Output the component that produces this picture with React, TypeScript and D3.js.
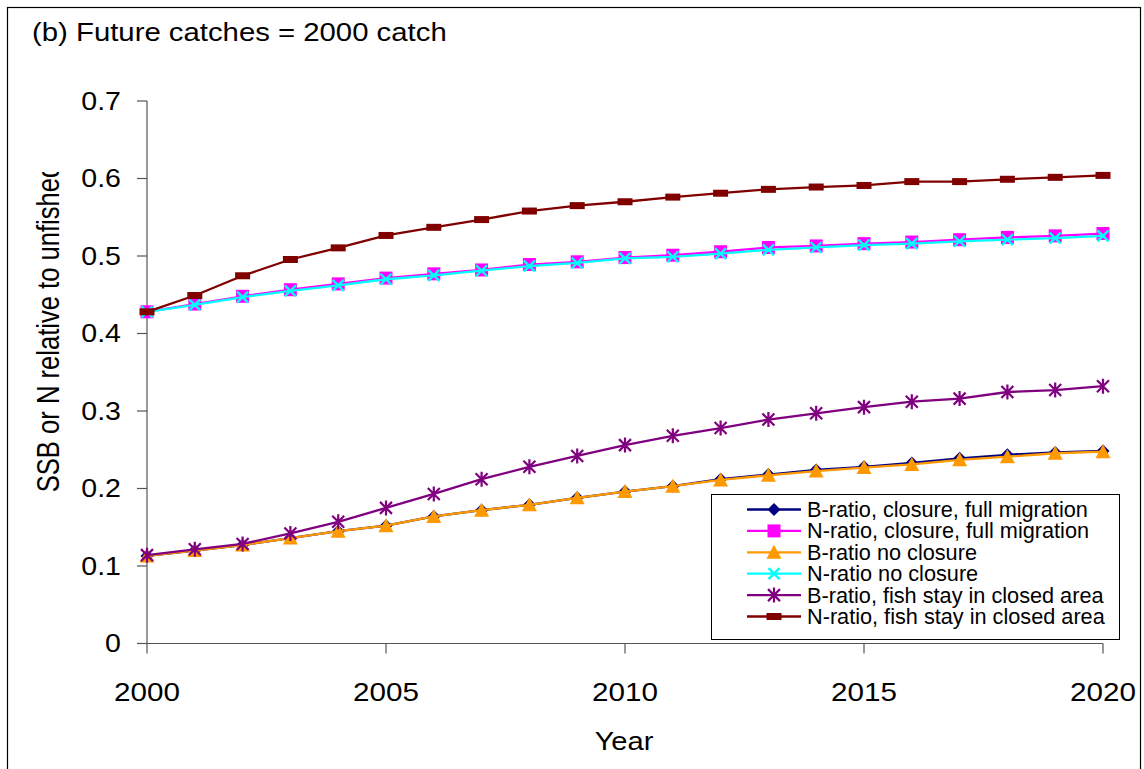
import React from "react";
import * as d3 from "d3";

// Projection years and ratios relative to unfished levels
const years = [2000, 2001, 2002, 2003, 2004, 2005, 2006, 2007, 2008, 2009, 2010, 2011, 2012, 2013, 2014, 2015, 2016, 2017, 2018, 2019, 2020];

const bRatioClosure = [0.113, 0.120, 0.127, 0.136, 0.145, 0.152, 0.164, 0.172, 0.179, 0.188, 0.196, 0.203, 0.212, 0.218, 0.224, 0.228, 0.233, 0.239, 0.2435, 0.2465, 0.2485];
const nRatioClosure = [0.428, 0.438, 0.448, 0.4565, 0.464, 0.4715, 0.477, 0.482, 0.489, 0.4925, 0.498, 0.501, 0.5055, 0.511, 0.513, 0.516, 0.518, 0.521, 0.524, 0.526, 0.529];
const bRatioNoClosure = [0.113, 0.120, 0.127, 0.136, 0.145, 0.152, 0.164, 0.172, 0.179, 0.188, 0.196, 0.203, 0.211, 0.217, 0.2225, 0.227, 0.231, 0.237, 0.241, 0.2455, 0.2475];
const nRatioNoClosure = [0.428, 0.437, 0.447, 0.455, 0.462, 0.470, 0.475, 0.481, 0.487, 0.491, 0.497, 0.499, 0.503, 0.508, 0.511, 0.514, 0.516, 0.519, 0.521, 0.523, 0.526];
const bRatioFishStay = [0.114, 0.1215, 0.1285, 0.142, 0.157, 0.175, 0.193, 0.212, 0.228, 0.242, 0.256, 0.268, 0.278, 0.289, 0.297, 0.305, 0.312, 0.316, 0.3245, 0.327, 0.332];
const nRatioFishStay = [0.428, 0.449, 0.4745, 0.4955, 0.5105, 0.5265, 0.537, 0.547, 0.558, 0.565, 0.570, 0.576, 0.581, 0.586, 0.589, 0.591, 0.596, 0.596, 0.599, 0.6015, 0.604];

const yTicks = [0, 0.1, 0.2, 0.3, 0.4, 0.5, 0.6, 0.7];
const xTicks = [2000, 2005, 2010, 2015, 2020];

const titleText = "(b) Future catches = 2000 catch";
const xTitle = "Year";
const yTitle = "SSB or N relative to unfished";

type MarkerKind = "diamond" | "square" | "triangle" | "cross" | "star" | "bar";

const series: { name: string; values: number[]; color: string; marker: MarkerKind }[] = [
  { name: "B-ratio, closure, full migration", values: bRatioClosure, color: "#000080", marker: "diamond" },
  { name: "N-ratio, closure, full migration", values: nRatioClosure, color: "#FF00FF", marker: "square" },
  { name: "B-ratio no closure", values: bRatioNoClosure, color: "#FF9900", marker: "triangle" },
  { name: "N-ratio no closure", values: nRatioNoClosure, color: "#00FFFF", marker: "cross" },
  { name: "B-ratio, fish stay in closed area", values: bRatioFishStay, color: "#800080", marker: "star" },
  { name: "N-ratio, fish stay in closed area", values: nRatioFishStay, color: "#800000", marker: "bar" },
];

const FONT = "'Liberation Sans', Arial, sans-serif";
const W = 1144;
const H = 769;
const plot = { left: 147, right: 1103, top: 101, bottom: 643.5 };

function Marker({ kind, color, cx, cy }: { kind: MarkerKind; color: string; cx: number; cy: number }) {
  switch (kind) {
    case "diamond":
      return <path d={`M${cx},${cy - 6.5}L${cx + 6.5},${cy}L${cx},${cy + 6.5}L${cx - 6.5},${cy}Z`} fill={color} />;
    case "square":
      return <rect x={cx - 6.5} y={cy - 6.5} width={13} height={13} fill={color} />;
    case "triangle":
      return <path d={`M${cx},${cy - 7.5}L${cx + 7.5},${cy + 6.5}L${cx - 7.5},${cy + 6.5}Z`} fill={color} />;
    case "cross":
      return (
        <path d={`M${cx - 5.5},${cy - 5.5}L${cx + 5.5},${cy + 5.5}M${cx + 5.5},${cy - 5.5}L${cx - 5.5},${cy + 5.5}`} stroke={color} strokeWidth={2.4} fill="none" />
      );
    case "star":
      return (
        <path
          d={`M${cx - 6},${cy - 6}L${cx + 6},${cy + 6}M${cx + 6},${cy - 6}L${cx - 6},${cy + 6}M${cx},${cy - 7.5}L${cx},${cy + 7.5}`}
          stroke={color}
          strokeWidth={2.2}
          fill="none"
        />
      );
    case "bar":
      return <rect x={cx - 7.5} y={cy - 3.5} width={15} height={7} fill={color} />;
  }
}

export default function App() {
  const x = d3.scaleLinear().domain([2000, 2020]).range([plot.left, plot.right]);
  const y = d3.scaleLinear().domain([0, 0.7]).range([plot.bottom, plot.top]);
  const line = d3
    .line<number>()
    .x((_, i) => x(years[i]))
    .y((d) => y(d));

  const legend = { x: 711, y: 494, w: 408, h: 145, rowH: 21.4, firstRow: 509.5, lineX1: 747, lineX2: 801, textX: 807 };

  return (
    <svg
      width={W}
      height={H}
      style={{ position: "absolute", left: 0, top: 0, background: "#fff" }}
      fontFamily={FONT}
    >
      <defs>
        <clipPath id="ytitle-clip">
          <rect x={0} y={172} width={120} height={500} />
        </clipPath>
      </defs>
      <rect x={0} y={0} width={W} height={H} fill="#fff" />
      <rect x={7.5} y={7.5} width={1133} height={H + 10} fill="none" stroke="#000" strokeWidth={1.2} />

      {/* title */}
      <text transform="translate(32,41) scale(1.15,1)" fontSize={25.5} fill="#000">
        {titleText}
      </text>

      {/* y axis */}
      <line x1={plot.left} x2={plot.left} y1={plot.top} y2={plot.bottom} stroke="#555" strokeWidth={1.2} />
      {yTicks.map((t) => (
        <g key={t}>
          <line x1={plot.left - 10} x2={plot.left} y1={y(t)} y2={y(t)} stroke="#555" strokeWidth={1.2} />
          <text
            transform={`translate(121,${y(t)}) scale(1.12,1)`}
            textAnchor="end"
            dominantBaseline="central"
            fontSize={25.5}
            fill="#000"
          >
            {t === 0 ? "0" : t.toFixed(1)}
          </text>
        </g>
      ))}

      {/* x axis */}
      <line x1={plot.left} x2={plot.right} y1={plot.bottom} y2={plot.bottom} stroke="#555" strokeWidth={1.2} />
      {xTicks.map((t) => (
        <g key={t}>
          <line x1={x(t)} x2={x(t)} y1={plot.bottom} y2={plot.bottom + 10} stroke="#555" strokeWidth={1.2} />
          <text transform={`translate(${x(t)},701) scale(1.14,1)`} textAnchor="middle" fontSize={26} fill="#000">
            {t}
          </text>
        </g>
      ))}
      <text transform="translate(624,750) scale(1.14,1)" textAnchor="middle" fontSize={25.5} fill="#000">
        {xTitle}
      </text>

      {/* y title, clipped at the top */}
      <g clipPath="url(#ytitle-clip)">
        <text
          transform="translate(48,328) scale(1.2,1) rotate(-90)"
          textAnchor="middle"
          dominantBaseline="central"
          fontSize={25.6}
          fill="#000"
        >
          {yTitle}
        </text>
      </g>

      {/* series */}
      {series.map((s) => (
        <g key={s.name}>
          <path d={line(s.values) ?? ""} fill="none" stroke={s.color} strokeWidth={2.3} />
          {s.values.map((v, i) => (
            <Marker key={i} kind={s.marker} color={s.color} cx={x(years[i])} cy={y(v)} />
          ))}
        </g>
      ))}

      {/* legend */}
      <rect x={legend.x + 0.5} y={legend.y + 0.5} width={legend.w} height={legend.h} fill="#fff" stroke="#000" strokeWidth={1} />
      {series.map((s, i) => {
        const cy = legend.firstRow + i * legend.rowH;
        return (
          <g key={s.name}>
            <line x1={legend.lineX1} x2={legend.lineX2} y1={cy} y2={cy} stroke={s.color} strokeWidth={2.3} />
            <Marker kind={s.marker} color={s.color} cx={(legend.lineX1 + legend.lineX2) / 2} cy={cy} />
            <text x={legend.textX} y={cy} dominantBaseline="central" fontSize={21.7} fill="#000">
              {s.name}
            </text>
          </g>
        );
      })}
    </svg>
  );
}
